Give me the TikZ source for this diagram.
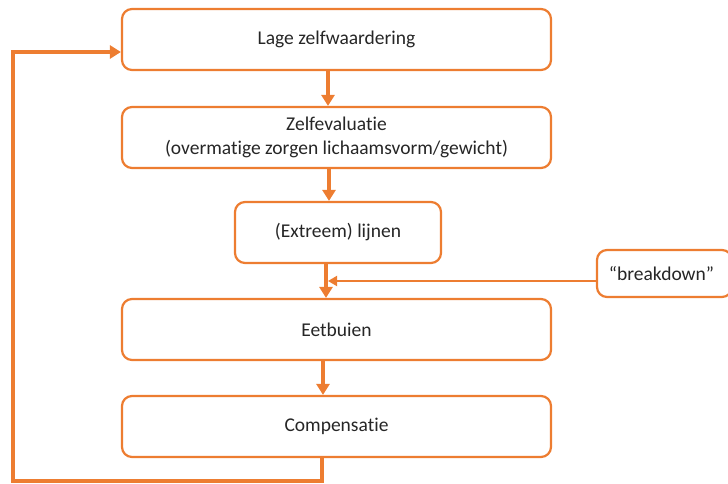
\documentclass[tikz,border=0pt]{standalone}
\usepackage{fontspec}
\setmainfont{Carlito}[Ligatures=NoCommon]
\usetikzlibrary{arrows.meta}
\definecolor{org}{HTML}{ED7D31}
\definecolor{txt}{HTML}{262626}
\begin{document}
\begin{tikzpicture}[x=1pt,y=-1pt,
  box/.style={draw=org,line width=2.2pt,rounded corners=10pt,fill=white,
    text=txt,font=\fontsize{19.5}{24}\selectfont,align=center,inner sep=0pt},
  arr/.style={draw=org,line width=3.5pt,-{Triangle[width=13pt,length=11pt]}},
  thinarr/.style={draw=org,line width=1.8pt,-{Triangle[width=10pt,length=9pt]}},
  fb/.style={draw=org,line width=3.5pt}]
\useasboundingbox (0,0) rectangle (728,484);
\begin{scope}
\clip (0,0) rectangle (728,484);
\node[box,minimum width=429pt,minimum height=61pt] (b1) at (336.5,39.5) {Lage zelfwaardering};
\node[box,minimum width=429pt,minimum height=61pt] (b2) at (336.5,137.5) {Zelfevaluatie\\(overmatige zorgen lichaamsvorm/gewicht)};
\node[box,minimum width=206pt,minimum height=61pt] (b3) at (338,232.5) {(Extreem) lijnen};
\node[box,minimum width=429pt,minimum height=61pt] (b4) at (336.5,329.5) {Eetbuien};
\node[box,minimum width=429pt,minimum height=61pt] (b5) at (336.5,426.5) {Compensatie};
\node[box,minimum width=135pt,minimum height=47pt] (bd) at (664.5,273.5) {\hspace*{-6pt}“breakdown”};
\end{scope}
\coordinate (x1) at (328,0);
\coordinate (x2) at (329,0);
\coordinate (x3) at (326,0);
\coordinate (x4) at (323,0);
\coordinate (x5) at (322,0);
\coordinate (bot) at (0,481);
\coordinate (lft) at (13,0);
\draw[arr] (b1.south -| x1) -- (b2.north -| x1);
\draw[arr] (b2.south -| x2) -- (b3.north -| x2);
\draw[arr] (b3.south -| x3) -- (b4.north -| x3);
\draw[arr] (b4.south -| x4) -- (b5.north -| x4);
\draw[thinarr] (bd.west |- 0,281) -- (x1 |- 0,281);
\draw[fb,-{Triangle[width=13pt,length=11pt]}] (b5.south -| x5) -- (x5 |- bot) -- (lft |- bot) -- (lft |- 0,52) -- (b1.west |- 0,52);
\end{tikzpicture}
\end{document}
